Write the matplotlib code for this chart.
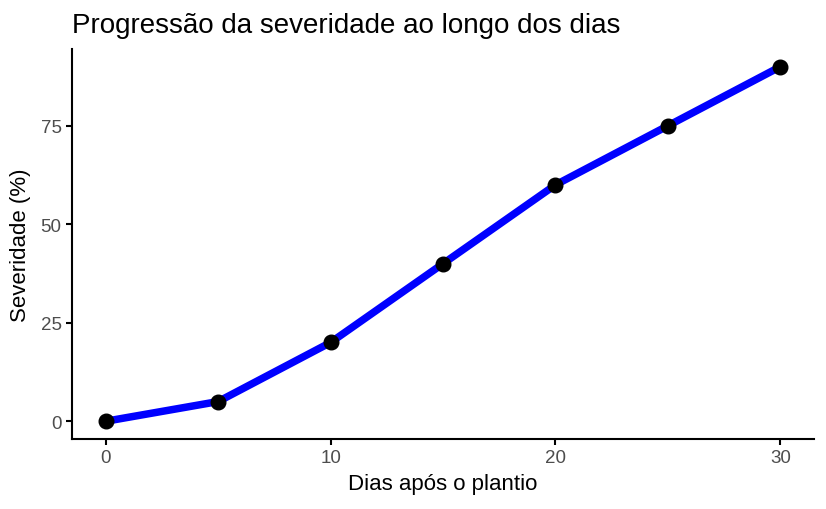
import matplotlib
matplotlib.use('Agg')
import matplotlib.pyplot as plt

dias = [0, 5, 10, 15, 20, 25, 30]
severidade = [0, 5, 20, 40, 60, 75, 90]
xticks = [0, 10, 20, 30]
yticks = [0, 25, 50, 75]

plt.rcParams['font.family'] = ['Liberation Sans', 'DejaVu Sans']

fig = plt.figure(figsize=(8.26, 5.1), dpi=100)
ax = fig.add_axes([0.0872, 0.1373, 0.8983, 0.7647])

ax.plot(dias, severidade, color='blue', linewidth=5.4, solid_capstyle='butt', zorder=2)
ax.plot(dias, severidade, 'o', color='black', markersize=10.5, zorder=3)

ax.set_xlim(-1.5, 31.5)
ax.set_ylim(-4.5, 94.5)
ax.set_xticks(xticks)
ax.set_yticks(yticks)

for s in ['top', 'right']:
    ax.spines[s].set_visible(False)
for s in ['left', 'bottom']:
    ax.spines[s].set_linewidth(1.5)
ax.tick_params(length=4, width=1.5, labelsize=13.5, labelcolor='#4D4D4D', pad=3.5)

ax.set_xlabel('Dias após o plantio', fontsize=16, labelpad=5)
ax.set_ylabel('Severidade (%)', fontsize=16, labelpad=7)
ax.set_title('Progressão da severidade ao longo dos dias', fontsize=20, loc='left', pad=12)

fig.savefig('out.png', dpi=100)
